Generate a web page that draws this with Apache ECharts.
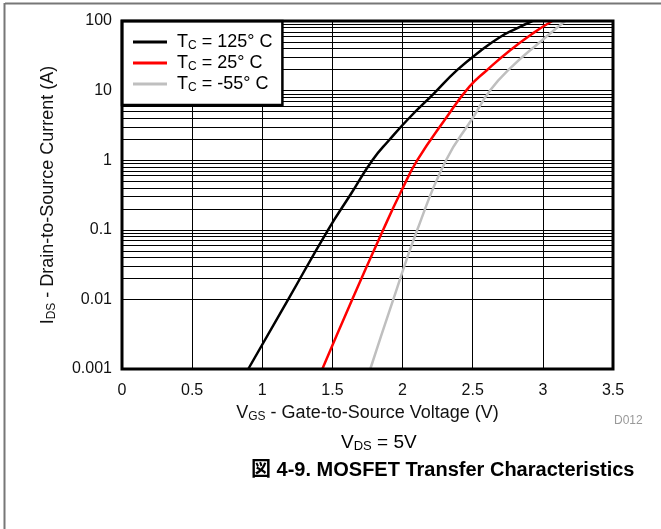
<!DOCTYPE html>
<html>
<head>
<meta charset="utf-8">
<script src="https://cdn.jsdelivr.net/npm/echarts@6/dist/echarts.min.js"></script>
<style>
html,body{margin:0;padding:0;background:#fff;}
#chart{width:661px;height:529px;}
</style>
</head>
<body>
<div id="chart"></div>
<script>
// ---- data ----
var seriesNames = ['125', '25', '-55'];
var seriesColors = ['#000000', '#ff0000', '#bfbfbf'];
var tc125 = [[0.90,0.001],[1.185,0.01],[1.469,0.1],[1.627,0.316],[1.785,1],[1.905,1.95],[2.047,4.04],[2.219,8.9],[2.39,19.8],[2.554,37],[2.696,59],[2.818,79],[2.925,100]];
var tc25  = [[1.428,0.001],[1.641,0.01],[1.862,0.1],[1.985,0.34],[2.105,1],[2.31,4.04],[2.475,11.3],[2.603,19.8],[2.767,38],[2.931,67],[3.067,100]];
var tcm55 = [[1.77,0.001],[1.934,0.01],[2.105,0.1],[2.31,1],[2.50,4.04],[2.626,10.2],[2.768,21],[2.98,50],[3.16,100]];
var xTicks = ['0','0.5','1','1.5','2','2.5','3','3.5'];
var yTicks = ['0.001','0.01','0.1','1','10','100'];
var minorGrid = [0.002,0.003,0.004,0.005,0.006,0.007,0.008,0.009,
                 0.02,0.03,0.04,0.05,0.06,0.07,0.08,0.09,
                 0.2,0.3,0.4,0.5,0.6,0.7,0.8,0.9,
                 2,3,4,5,6,7,8,9,
                 20,30,40,50,60,70,80,90];

var FONT = '"Liberation Sans", Arial, Helvetica, sans-serif';
var chart = echarts.init(document.getElementById('chart'), null, {renderer:'canvas'});

var dataSets = [tc125, tc25, tcm55];
var series = dataSets.map(function(d, i){
  return {
    name: seriesNames[i],
    type: 'line',
    data: d,
    smooth: 0.5,
    symbol: 'none',
    lineStyle: {color: seriesColors[i], width: 2.5},
    itemStyle: {color: seriesColors[i]},
    z: 5,
    animation: false
  };
});
series.push({
  name: 'grid',
  type: 'line',
  data: [],
  silent: true,
  animation: false,
  z: 1,
  markLine: {
    silent: true,
    symbol: 'none',
    animation: false,
    label: {show: false},
    lineStyle: {color: '#000', width: 1, type: 'solid'},
    data: minorGrid.map(function(v){ return {yAxis: v}; })
  }
});

function richSub(size, subSize, color, pad){
  return {
    g: {width: 5},
    t: {fontFamily: FONT, fontSize: size, color: color},
    s: {fontFamily: FONT, fontSize: subSize, color: color, padding: [pad, 0, 0, 0]}
  };
}

var option = {
  backgroundColor: '#fff',
  animation: false,
  textStyle: {fontFamily: FONT},
  grid: {left: 122, right: 48, top: 21, bottom: 160, show: true, borderColor: '#000', borderWidth: 3, backgroundColor: 'transparent', z: 10},
  legend: {
    data: seriesNames.map(function(n){ return {name: n, icon: 'rect'}; }),
    orient: 'vertical',
    left: 122, top: 21,
    itemWidth: 34, itemHeight: 3, itemGap: 2,
    backgroundColor: '#fff',
    borderColor: '#000', borderWidth: 2.5, borderRadius: 0,
    padding: [12, 10, 11, 11],
    formatter: function(n){ return '{g|}{t|T}{s|C}{t| = ' + n + '° C}'; },
    textStyle: {
      fontFamily: FONT, color: '#000', fontSize: 18,
      rich: richSub(18, 12, '#000', 8)
    },
    z: 8
  },
  xAxis: {
    type: 'value', min: 0, max: 3.5, interval: 0.5,
    axisLine: {show: false}, axisTick: {show: false},
    axisLabel: {fontFamily: FONT, fontSize: 16, color: '#111', margin: 14,
      formatter: function(v){ return xTicks[Math.round(v/0.5)]; }},
    splitLine: {show: true, lineStyle: {color: '#000', width: 1}},
    name: '{t|V}{s|GS}{t| - Gate-to-Source Voltage (V)}',
    nameLocation: 'middle', nameGap: 29,
    nameTextStyle: {fontFamily: FONT, fontSize: 18, color: '#111', rich: richSub(18, 12, '#111', 8)}
  },
  yAxis: {
    type: 'log', logBase: 10, min: 0.001, max: 100,
    axisLine: {show: false}, axisTick: {show: false},
    axisLabel: {fontFamily: FONT, fontSize: 16, color: '#111', margin: 10,
      formatter: function(v){ var e = Math.round(Math.log10(v)) + 3; return yTicks[e]; }},
    splitLine: {show: true, lineStyle: {color: '#000', width: 1}},
    minorSplitLine: {show: false},
    name: '{t|I}{s|DS}{t| - Drain-to-Source Current (A)}',
    nameLocation: 'middle', nameGap: 64, nameRotate: 90,
    nameTextStyle: {fontFamily: FONT, fontSize: 18, color: '#111', rich: richSub(18, 12, '#111', 8)}
  },
  title: [
    {text: 'D012', left: 609, top: 410, textStyle: {fontFamily: FONT, fontSize: 12, fontWeight: 'normal', color: '#999'}},
    {text: '{t|V}{s|DS}{t| = 5V}', left: 336, top: 427,
      textStyle: {fontFamily: FONT, fontSize: 19, fontWeight: 'normal', color: '#000', rich: richSub(19, 13, '#000', 8)}},
    {text: '図 4-9. MOSFET Transfer Characteristics', left: 246, top: 455,
      textStyle: {fontFamily: '"Liberation Sans", "Noto Sans CJK JP", Arial, sans-serif', fontSize: 20, fontWeight: 'bold', color: '#000'}}
  ],
  graphic: [
    {type: 'line', shape: {x1: 5, y1: 3.5, x2: 661, y2: 3.5}, style: {stroke: '#777', lineWidth: 2}, silent: true},
    {type: 'line', shape: {x1: 4.5, y1: 3, x2: 4.5, y2: 529}, style: {stroke: '#777', lineWidth: 2}, silent: true}
  ],
  series: series
};
chart.setOption(option);
</script>
</body>
</html>
